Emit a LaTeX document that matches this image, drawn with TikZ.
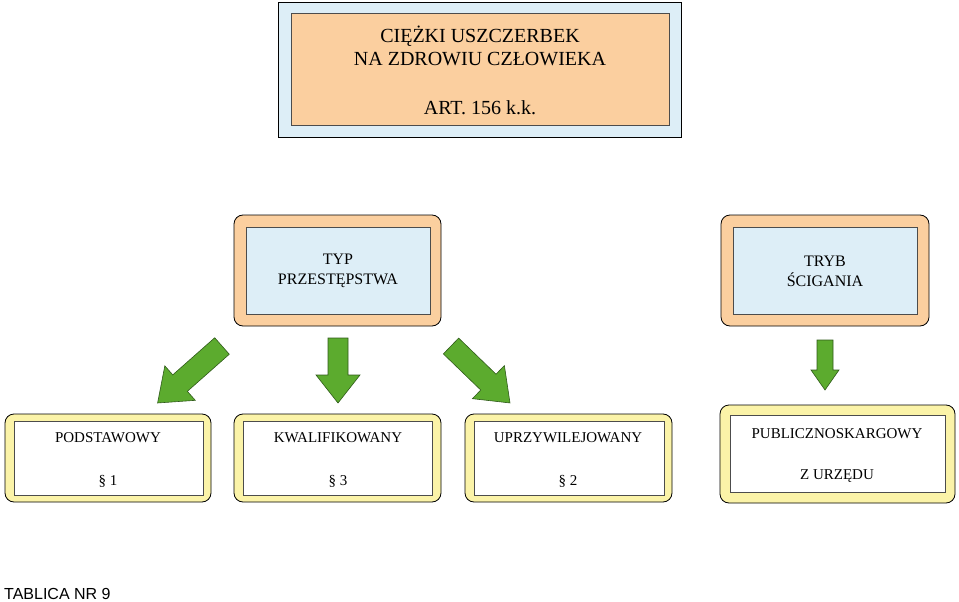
\documentclass[tikz,border=0pt]{standalone}
\usepackage{fontspec}
\setmainfont{Liberation Serif}
\newfontfamily\lsans{Liberation Sans}
\definecolor{lblue}{HTML}{DDEEF7}
\definecolor{lorange}{HTML}{FBCF9F}
\definecolor{lyellow}{HTML}{FBF3A8}
\definecolor{agreen}{HTML}{5CAB2E}
\definecolor{dgreen}{HTML}{2F5A1A}
\tikzset{
 outerbox/.style={draw=black,line width=0.8pt,rounded corners=9pt},
 innerbox/.style={draw=black!70,line width=0.6pt},
 garrow/.style={fill=agreen,draw=dgreen,line width=0.6pt,line join=miter},
}
% #1 start, #2 angle, #3 length, #4 shaft half, #5 head half, #6 head length
\newcommand\myarrow[6]{\begin{scope}[shift={#1},rotate=#2]
\draw[garrow] (0,-#4)--({#3-#6},-#4)--({#3-#6},-#5)--(#3,0)--({#3-#6},#5)--({#3-#6},#4)--(0,#4)--cycle;
\end{scope}}
\begin{document}
\begin{tikzpicture}[x=1pt,y=-1pt]
\useasboundingbox (0,0) rectangle (959,602);
% top
\draw[fill=lblue,line width=0.8pt] (278,2) rectangle (681,137);
\draw[fill=lorange,innerbox] (291,13) rectangle (669,125);
\node[font=\fontsize{20}{23}\selectfont,align=center] (t1) at (480,46) {CIĘŻKI USZCZERBEK\\NA ZDROWIU CZŁOWIEKA};
\node[font=\fontsize{20}{23}\selectfont] (t2) at (480,108) {ART. 156 k.k.};
% typ
\draw[outerbox,fill=lorange] (234,215) rectangle (441,326);
\draw[innerbox,fill=lblue] (246,227) rectangle (430,314);
\node[font=\fontsize{16}{20}\selectfont,align=center] (typ) at (338,271) {TYP\\PRZESTĘPSTWA};
\draw[outerbox,fill=lorange] (721,215) rectangle (929,326);
\draw[innerbox,fill=lblue] (733,227) rectangle (917,314);
\node[font=\fontsize{16}{20}\selectfont,align=center] (tryb) at (825,271) {TRYB\\ŚCIGANIA};
% bottom
\foreach \a/\b/\c/\d/\e/\f/\g/\h [count=\i] in {5/211/414/502/14/203/421/495, 234/441/414/502/243/432/421/495, 465/672/414/502/474/664/421/495, 720/955/405/503/730/945/415/492}{
 \draw[outerbox,fill=lyellow] (\a,\c) rectangle (\b,\d);
 \draw[innerbox,fill=white] (\e,\g) rectangle (\f,\h);
}
\tikzset{bt/.style={font=\fontsize{15}{17}\selectfont}}
\node[bt] (p1) at (108,438) {PODSTAWOWY};
\node[bt] (p2) at (108,481) {§ 1};
\node[bt] (k1) at (338,438) {KWALIFIKOWANY};
\node[bt] (k2) at (338,481) {§ 3};
\node[bt] (u1) at (568,438) {UPRZYWILEJOWANY};
\node[bt] (u2) at (568,481) {§ 2};
\node[bt] (pu1) at (837,434) {PUBLICZNOSKARGOWY};
\node[bt] (pu2) at (837,476) {Z URZĘDU};
% arrows
\myarrow{(338,338)}{-90}{65}{10}{22}{28}
\myarrow{(222,346)}{-138.5}{86}{11}{23}{30}
\myarrow{(451,346)}{-44}{82}{11}{23}{30}
\myarrow{(825,340)}{-90}{50}{8}{14}{20}
\node[font=\lsans\fontsize{16}{18}\selectfont,anchor=south west,inner sep=0pt] (tab) at (4,600) {TABLICA NR 9};
\end{tikzpicture}
\end{document}
